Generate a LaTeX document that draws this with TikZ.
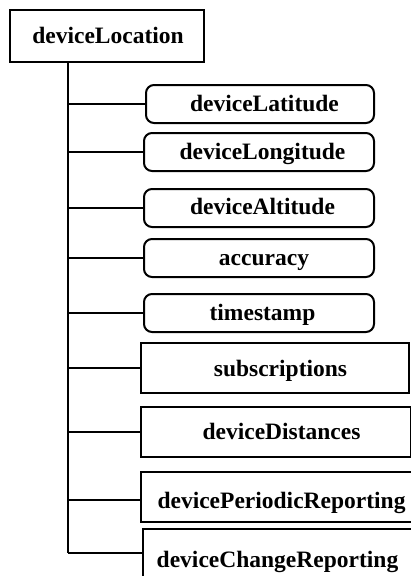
\documentclass[tikz,border=0pt]{standalone}
\usepackage{fontspec}
\setmainfont{Liberation Serif}
\begin{document}
\begin{tikzpicture}[x=1pt,y=-1pt,
  line width=2pt,
  lbl/.style={font=\fontsize{23.5}{26}\selectfont\bfseries, inner sep=0pt, anchor=base},
  rootbox/.style={draw, rectangle, inner sep=0pt},
  roundbox/.style={draw, rounded corners=8pt, inner sep=0pt},
  sqbox/.style={draw, rectangle, inner sep=0pt},
  branch/.style={line width=2pt}]
\useasboundingbox (0,0) rectangle (411,576);
\begin{scope}
\clip (0,0) rectangle (411,576);

% root element
\node[rootbox, minimum width=194pt, minimum height=52pt] (root) at (107,36) {};
\node[lbl] (rootT) at (108,43.5) {deviceLocation};

% rounded leaf elements
\node[roundbox, minimum width=228pt, minimum height=38pt] (lat) at (260,104) {};
\node[lbl] (latT) at (264.5,111) {deviceLatitude};
\node[roundbox, minimum width=230pt, minimum height=38pt] (lon) at (259,152) {};
\node[lbl] (lonT) at (262.5,159.5) {deviceLongitude};
\node[roundbox, minimum width=230pt, minimum height=38pt] (alt) at (259,208) {};
\node[lbl] (altT) at (262.5,214.5) {deviceAltitude};
\node[roundbox, minimum width=230pt, minimum height=38pt] (acc) at (259,258) {};
\node[lbl] (accT) at (264,265) {accuracy};
\node[roundbox, minimum width=230pt, minimum height=38pt] (ts) at (259,313) {};
\node[lbl] (tsT) at (262.5,320) {timestamp};

% rectangular elements
\node[sqbox, minimum width=268pt, minimum height=50pt] (sub) at (275,368) {};
\node[lbl] (subT) at (280.5,376) {subscriptions};
\node[sqbox, minimum width=270pt, minimum height=50pt] (dist) at (276,432) {};
\node[lbl] (distT) at (281.5,439) {deviceDistances};
\node[sqbox, minimum width=300pt, minimum height=50pt] (per) at (291,497) {};
\node[lbl] (perT) at (281.5,508) {devicePeriodicReporting};
\node[sqbox, minimum width=300pt, minimum height=72pt] (chg) at (293,565) {};
\node[lbl] (chgT) at (277.5,567) {deviceChangeReporting};

% trunk and branches
\coordinate (top) at (68,62);
\coordinate (bot) at (68,553);
\draw[branch] (root.south -| top) -- (bot);
\draw[branch] (lat.west -| top) -- (lat.west);
\draw[branch] (lon.west -| top) -- (lon.west);
\draw[branch] (alt.west -| top) -- (alt.west);
\draw[branch] (acc.west -| top) -- (acc.west);
\draw[branch] (ts.west -| top) -- (ts.west);
\draw[branch] (sub.west -| top) -- (sub.west);
\draw[branch] (dist.west -| top) -- (dist.west);
\draw[branch] ([yshift=-3pt]per.west -| top) -- ([yshift=-3pt]per.west);
\draw[branch] (bot) -- (bot -| chg.west);
\end{scope}
\end{tikzpicture}
\end{document}
